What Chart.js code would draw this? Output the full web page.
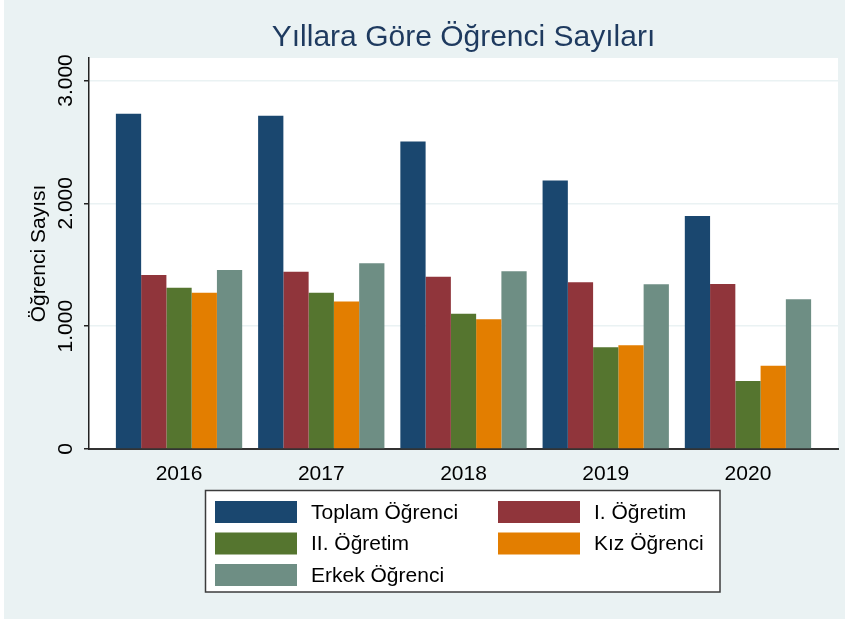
<!DOCTYPE html>
<html>
<head>
<meta charset="utf-8">
<script src="https://cdn.jsdelivr.net/npm/chart.js@4"></script>
<style>
    html, body { margin: 0; padding: 0; background: #fff; }
    canvas { display: block; }
</style>
</head>
<body>
<canvas id="chart" width="845" height="622"></canvas>
<script>
// Yıllara göre öğrenci sayıları
const years = [2016, 2017, 2018, 2019, 2020];
const toplam = [2730, 2713, 2503, 2186, 1897];
const birinciOgretim = [1417, 1442, 1402, 1358, 1343];
const ikinciOgretim = [1313, 1271, 1101, 828, 554];
const kizOgrenci = [1272, 1200, 1056, 845, 677];
const erkekOgrenci = [1458, 1513, 1447, 1341, 1220];
const yTicks = [0, 1000, 2000, 3000];

const seriesLabels = ['Toplam Öğrenci', 'I. Öğretim', 'II. Öğretim', 'Kız Öğrenci', 'Erkek Öğrenci'];
const seriesData = [toplam, birinciOgretim, ikinciOgretim, kizOgrenci, erkekOgrenci];
const seriesColors = ['#1a476f', '#90353b', '#55752f', '#e37e00', '#6e8e84'];

const FONT = '"Liberation Sans", Arial, Helvetica, sans-serif';

const fmt = v => String(v).replace(/\B(?=(\d{3})+(?!\d))/g, '.');

// background + white plot region
const bgPlugin = {
    id: 'bgPlugin',
    beforeDraw(chart) {
        const { ctx, chartArea: a } = chart;
        ctx.save();
        ctx.fillStyle = '#eaf2f3';
        ctx.fillRect(4, 0, chart.width - 4, chart.height - 3);
        ctx.fillStyle = '#ffffff';
        ctx.fillRect(a.left, a.top, a.right - a.left, a.bottom - a.top);
        ctx.restore();
    }
};

// stata style legend box, 2 columns
const boxLegend = {
    id: 'boxLegend',
    afterDraw(chart) {
        const ctx = chart.ctx;
        const box = { x: 205.5, y: 490.5, w: 514.5, h: 101.5 };
        const cols = [215, 498];
        const rows = [501, 532.5, 564];
        ctx.save();
        ctx.fillStyle = '#ffffff';
        ctx.fillRect(box.x, box.y, box.w, box.h);
        ctx.strokeStyle = '#3c3c3c';
        ctx.lineWidth = 1.5;
        ctx.strokeRect(box.x, box.y, box.w, box.h);
        ctx.font = '21px ' + FONT;
        ctx.textBaseline = 'middle';
        ctx.textAlign = 'left';
        chart.data.datasets.forEach((ds, i) => {
            const cx = cols[i % 2];
            const cy = rows[Math.floor(i / 2)];
            ctx.fillStyle = ds.backgroundColor;
            ctx.fillRect(cx, cy, 82, 22);
            ctx.fillStyle = '#000';
            ctx.fillText(ds.label, cx + 96, cy + 12);
        });
        ctx.restore();
    }
};

new Chart(document.getElementById('chart'), {
    type: 'bar',
    data: {
        datasets: seriesLabels.map((label, i) => ({
            label: label,
            data: years.map((y, j) => ({ x: y, y: seriesData[i][j] })),
            backgroundColor: seriesColors[i],
            borderWidth: 0,
            categoryPercentage: 0.888,
            barPercentage: 1
        }))
    },
    options: {
        responsive: false,
        devicePixelRatio: 1,
        animation: false,
        layout: { padding: { left: 0, right: 7, top: 0, bottom: 0 } },
        plugins: {
            legend: { display: false },
            tooltip: { enabled: false },
            title: {
                display: true,
                text: 'Yıllara Göre Öğrenci Sayıları',
                fullSize: false,
                color: '#1e3a5f',
                font: { family: FONT, size: 30, weight: 'normal' },
                padding: { top: 20, bottom: 2 }
            }
        },
        scales: {
            x: {
                type: 'linear',
                min: 2015.367,
                max: 2020.633,
                offset: false,
                afterBuildTicks: s => { s.ticks = years.map(v => ({ value: v })); },
                afterFit: s => { s.height = 173; },
                grid: { display: false, offset: false },
                border: { color: '#333', width: 2 },
                ticks: {
                    color: '#000',
                    padding: 5,
                    font: { family: FONT, size: 21 },
                    callback: v => String(v)
                }
            },
            y: {
                min: 0,
                max: 3183,
                afterBuildTicks: s => { s.ticks = yTicks.map(v => ({ value: v })); },
                afterFit: s => { s.width = 89; },
                grid: { color: '#eaf2f3', lineWidth: 1.5, tickColor: '#222', tickLength: 5 },
                border: { color: '#222', width: 1.5 },
                title: {
                    display: true,
                    text: 'Öğrenci Sayısı',
                    color: '#000',
                    font: { family: FONT, size: 21 },
                    padding: { top: 27, bottom: 0 }
                },
                ticks: {
                    color: '#000',
                    autoSkip: false,
                    minRotation: 90,
                    maxRotation: 90,
                    crossAlign: 'center',
                    padding: -8,
                    font: { family: FONT, size: 21 },
                    callback: v => fmt(v)
                }
            }
        }
    },
    plugins: [bgPlugin, boxLegend]
});
</script>
</body>
</html>
